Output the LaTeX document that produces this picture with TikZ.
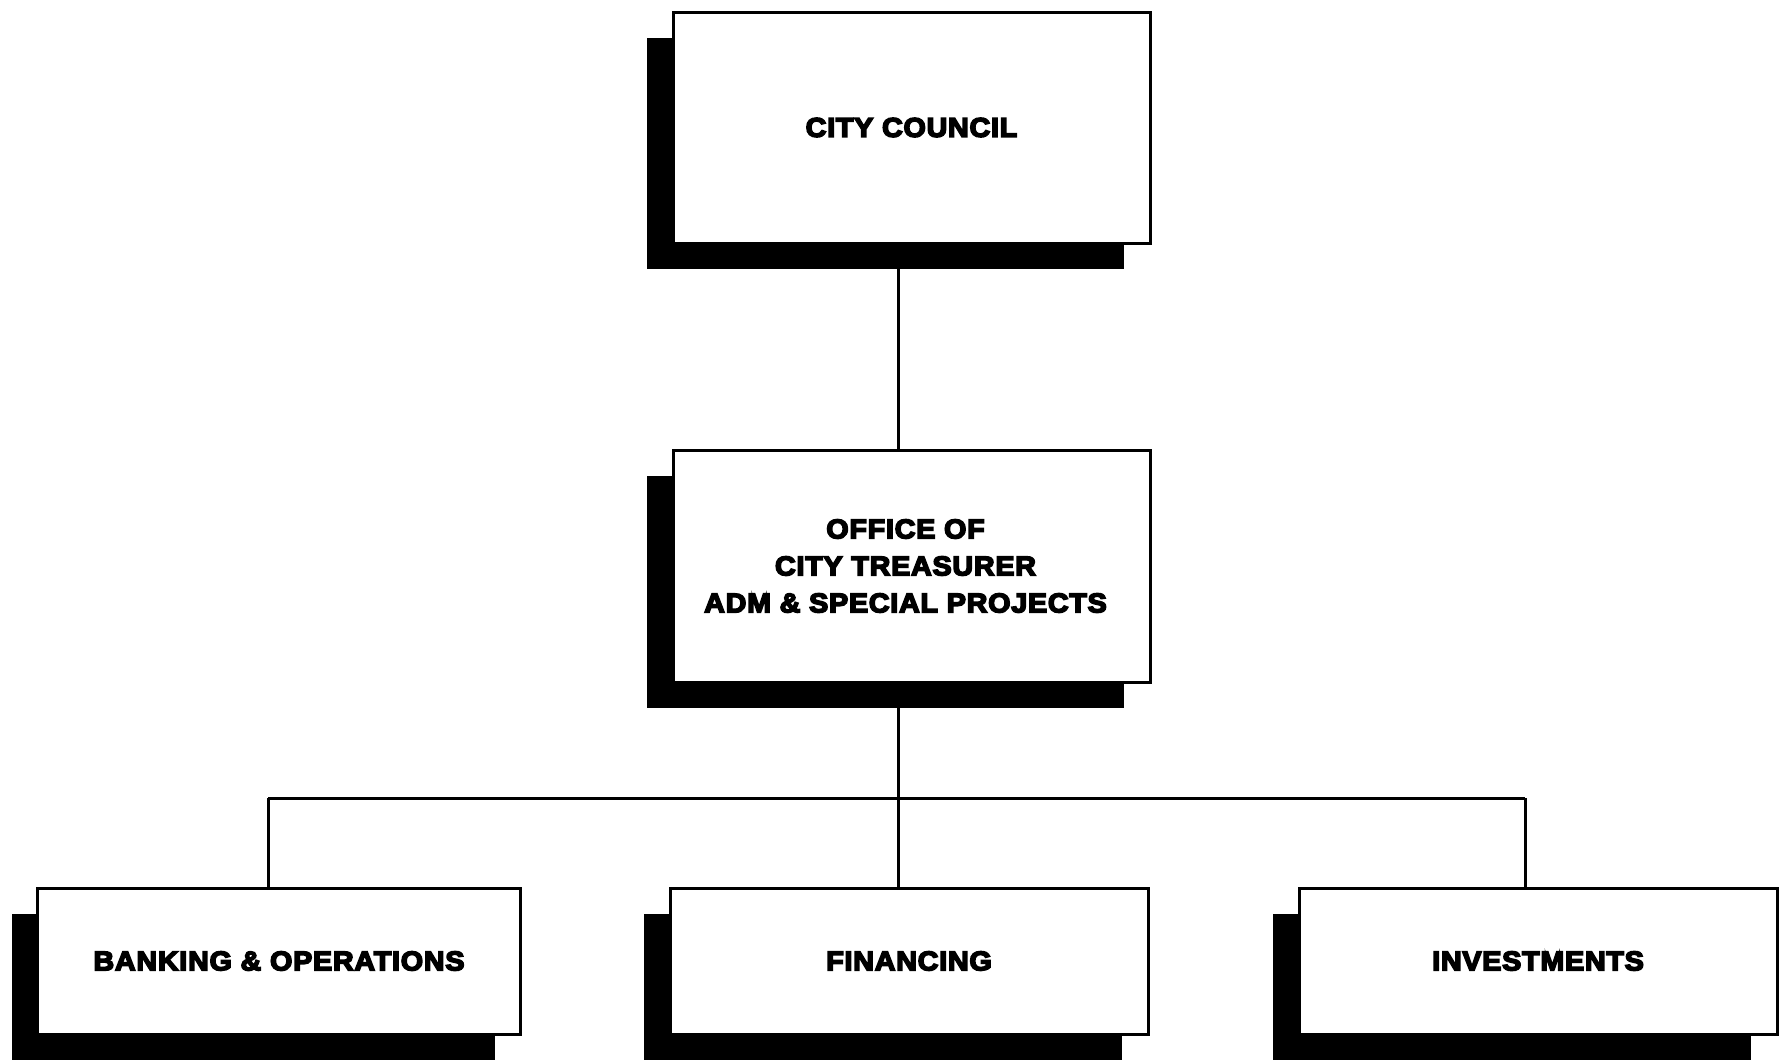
\documentclass[tikz,border=0pt]{standalone}
\usepackage{fontspec}
\newfontfamily\heavy{Liberation Sans Bold}[FakeBold=6,FakeStretch=1.06,LetterSpace=3]
\usetikzlibrary{shadows}
\begin{document}
\begin{tikzpicture}[x=1pt,y=-1pt,
  orgbox/.style={draw=black, fill=white, line width=3pt, inner sep=0pt,
    general shadow={fill=black, shadow xshift=-26pt, shadow yshift=-26pt},
    font=\heavy\fontsize{27}{37}\selectfont, align=center},
  conn/.style={line width=3pt}]
\useasboundingbox (0,0) rectangle (1781,1061);
\node[orgbox, minimum width=477pt, minimum height=231pt] (cc) at (911.5,127.5) {CITY COUNCIL};
\node[orgbox, minimum width=477pt, minimum height=232pt] (oct) at (911.5,566) {\hspace*{-12pt}OFFICE OF\\\hspace*{-12pt}CITY TREASURER\\\hspace*{-12pt}ADM \& SPECIAL PROJECTS};
\node[orgbox, minimum width=483pt, minimum height=146pt] (bank) at (279,961) {BANKING \& OPERATIONS};
\node[orgbox, minimum width=478pt, minimum height=146pt] (fin) at (909,961) {FINANCING};
\node[orgbox, minimum width=478pt, minimum height=146pt] (inv) at (1538,961) {INVESTMENTS};
\coordinate (bus) at (898,798);
\coordinate (busl) at (268,798);
\coordinate (busr) at (1525,798);
\draw[conn] (cc.south -| bus) -- (oct.north -| bus);
\draw[conn] (oct.south -| bus) -- (bus);
\draw[conn] (busl) -- (busr);
\draw[conn] (busl) -- (bank.north -| busl);
\draw[conn] (bus) -- (fin.north -| bus);
\draw[conn] (busr) -- (inv.north -| busr);
\end{tikzpicture}
\end{document}
